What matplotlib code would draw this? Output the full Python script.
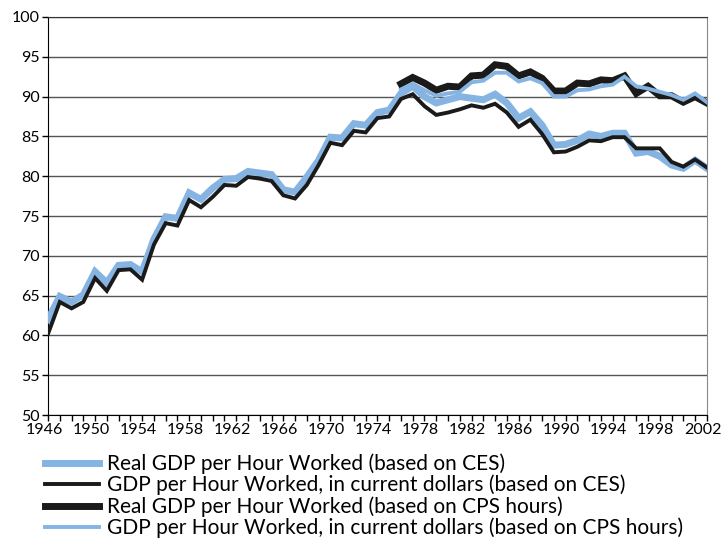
import numpy as np
import matplotlib.pyplot as plt
import matplotlib.transforms as mtransforms
from matplotlib.ticker import MultipleLocator
from matplotlib.lines import Line2D

plt.rcParams['font.family'] = ['Lato', 'DejaVu Sans']

# -------------------------
# DATA
# -------------------------
years = list(range(1946, 2003))
years_cps = list(range(1976, 2003))

real_ces = [62.0, 64.9, 64.2, 65.1, 68.0, 66.6, 68.8, 68.9, 68.0, 72.1,
            74.9, 74.7, 77.9, 77.1, 78.5, 79.6, 79.7, 80.6, 80.4, 80.2,
            78.3, 78.0, 79.9, 82.0, 84.9, 84.8, 86.6, 86.4, 88.0, 88.3,
            90.4, 91.3, 90.0, 89.2, 89.6, 90.0, 89.8, 89.6, 90.3, 89.2,
            87.3, 88.1, 86.4, 83.9, 84.0, 84.5, 85.3, 85.0, 85.4, 85.4,
            82.9, 83.1, 82.5, 81.4, 81.0, 82.0, 81.0]
curr_ces = [60.2, 64.2, 63.4, 64.2, 67.2, 65.6, 68.2, 68.3, 67.0, 71.4,
            74.1, 73.8, 77.0, 76.1, 77.4, 78.9, 78.8, 79.9, 79.7, 79.4,
            77.6, 77.2, 78.9, 81.4, 84.2, 83.9, 85.7, 85.5, 87.3, 87.5,
            89.7, 90.3, 88.8, 87.7, 88.0, 88.4, 88.9, 88.6, 89.1, 88.0,
            86.2, 87.1, 85.3, 83.0, 83.1, 83.7, 84.5, 84.4, 84.9, 84.9,
            83.5, 83.5, 83.5, 81.8, 81.2, 82.1, 81.1]
real_cps = [91.6, 92.4, 91.7, 90.8, 91.3, 91.2, 92.6, 92.7, 94.0, 93.8,
            92.6, 93.1, 92.3, 90.7, 90.7, 91.7, 91.6, 92.1, 92.0, 92.6,
            90.4, 91.3, 90.1, 90.1, 89.3, 90.0, 89.2]
curr_cps = [90.9, 91.6, 90.8, 90.1, 90.4, 90.6, 91.8, 92.0, 93.0, 93.0,
            91.9, 92.3, 91.7, 90.0, 90.0, 90.8, 90.9, 91.3, 91.5, 92.5,
            91.3, 91.0, 90.6, 90.2, 89.6, 90.4, 89.3]

labels = ["Real GDP per Hour Worked (based on CES)",
          "GDP per Hour Worked, in current dollars (based on CES)",
          "Real GDP per Hour Worked (based on CPS hours)",
          "GDP per Hour Worked, in current dollars (based on CPS hours)"]

blue = "#85B4E3"
black = "#1a1a1a"

fig = plt.figure(figsize=(7.22, 5.43), dpi=100)
ax = fig.add_axes([0.0665, 0.2357, 0.9125, 0.733])

ax.plot(years, real_ces, color=blue, lw=5.0, solid_joinstyle="miter", zorder=3)
ax.plot(years, curr_ces, color=black, lw=2.8, solid_joinstyle="miter", zorder=4)
ax.plot(years_cps, real_cps, color=black, lw=5.0, solid_joinstyle="miter", zorder=5)
ax.plot(years_cps, curr_cps, color=blue, lw=2.8, solid_joinstyle="miter", zorder=6)

ax.set_xlim(1946, 2002)
ax.set_ylim(50, 100)
ax.set_xticks(range(1946, 2003, 4))
ax.set_xticks(years, minor=True)
ax.yaxis.set_major_locator(MultipleLocator(5))
ax.tick_params(axis="both", which="both", direction="out", labelsize=11.5,
               length=4, width=1)
ax.tick_params(axis="x", pad=2)
ax.tick_params(axis="y", pad=2)

# x labels sit a few pixels left of their ticks, as in the original
shift = mtransforms.ScaledTranslation(-4 / 100, 0, fig.dpi_scale_trans)
for lbl in ax.get_xticklabels():
    lbl.set_transform(lbl.get_transform() + shift)

ax.grid(axis="y", color="#555555", lw=1.0, zorder=1)
ax.spines["left"].set_color("black")
ax.spines["bottom"].set_color("black")
ax.spines["top"].set_color("#333333")
ax.spines["right"].set_color("#888888")

handles = [Line2D([], [], color=blue, lw=5.0),
           Line2D([], [], color=black, lw=2.8),
           Line2D([], [], color=black, lw=5.0),
           Line2D([], [], color=blue, lw=2.8)]
fig.legend(handles, labels, loc="upper left", bbox_to_anchor=(0.062, 0.165),
           frameon=False, fontsize=15, handlelength=2.6, handletextpad=0.4,
           labelspacing=0.04, borderaxespad=0, borderpad=0)

fig.savefig("out.png", dpi=100)
